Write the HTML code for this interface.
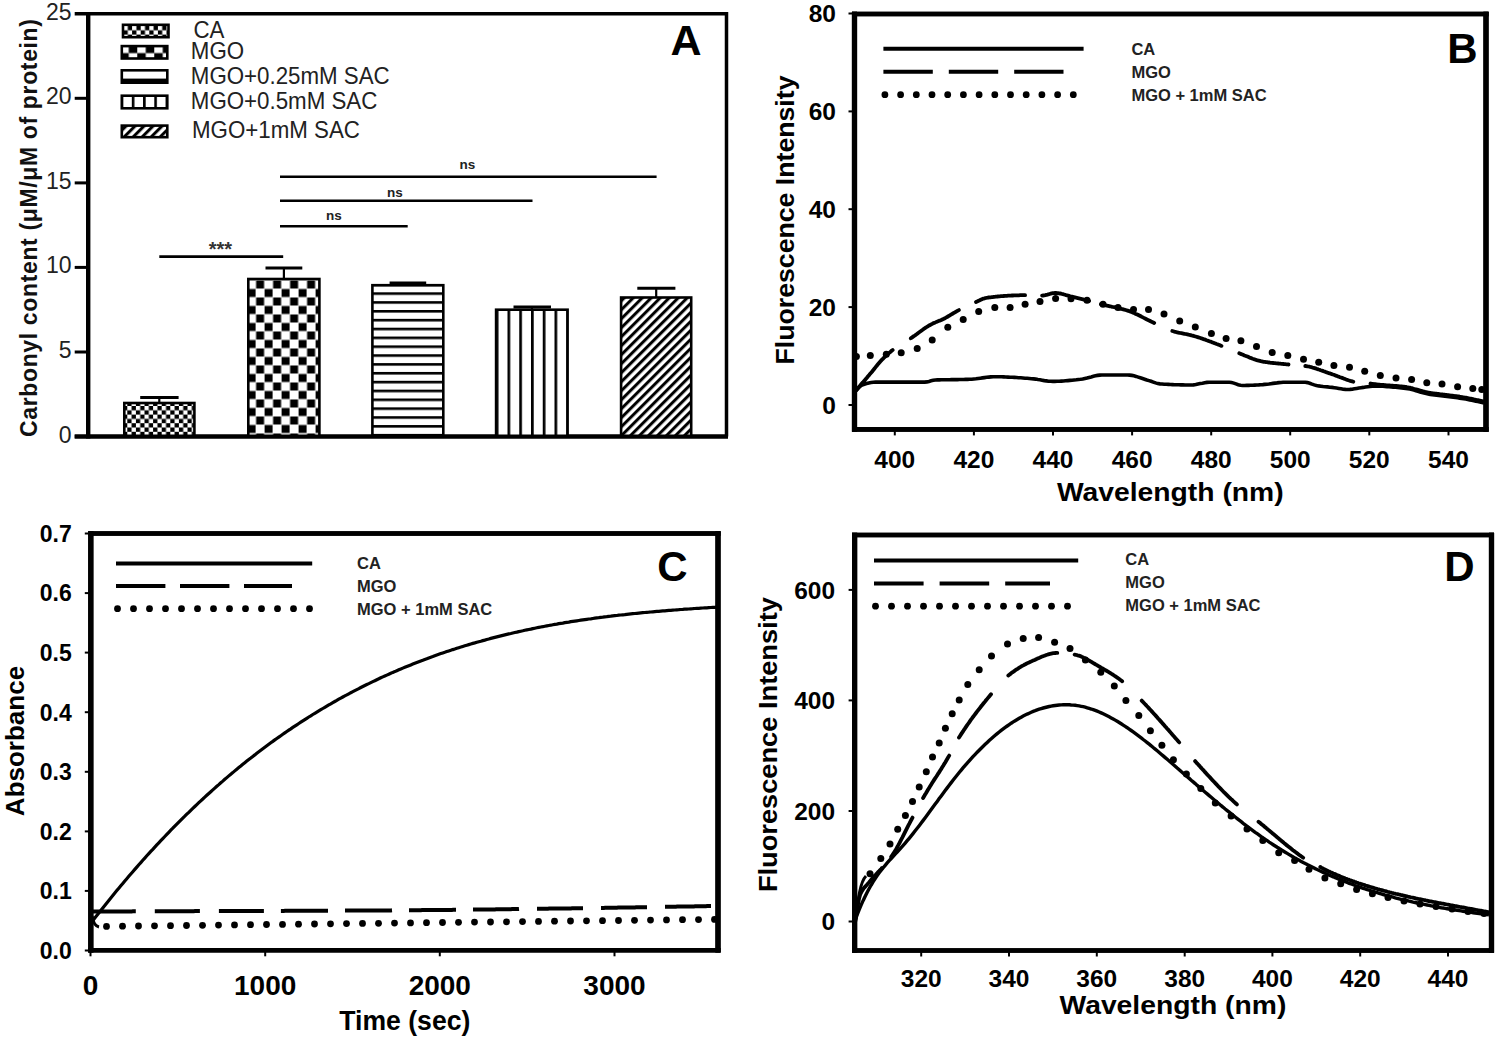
<!DOCTYPE html>
<html><head><meta charset="utf-8"><style>
html,body{margin:0;padding:0;background:#fff;width:1499px;height:1040px;overflow:hidden}
svg{display:block}
text{font-family:"Liberation Sans",sans-serif}
</style></head><body>
<svg width="1499" height="1040" viewBox="0 0 1499 1040">
<rect width="1499" height="1040" fill="#fff"/>
<defs>
<pattern id="pCA" patternUnits="userSpaceOnUse" x="127.3" y="406" width="8.6" height="8.6"><rect width="8.6" height="8.6" fill="#fff"/><rect x="4.3" y="0" width="4.3" height="4.3" fill="#000"/><rect x="0" y="4.3" width="4.3" height="4.3" fill="#000"/></pattern>
<pattern id="pMGO" patternUnits="userSpaceOnUse" x="247.6" y="280.5" width="17" height="17"><rect width="17" height="17" fill="#fff"/><rect x="8.5" y="0" width="8" height="8" fill="#000"/><rect x="0" y="8.5" width="8" height="8" fill="#000"/></pattern>
<pattern id="pH" patternUnits="userSpaceOnUse" x="0" y="292.3" width="10" height="8.85"><rect width="10" height="8.85" fill="#fff"/><rect y="0" width="10" height="2.6" fill="#000"/></pattern>
<pattern id="pV" patternUnits="userSpaceOnUse" x="507.5" y="0" width="11.75" height="10"><rect width="11.75" height="10" fill="#fff"/><rect x="0" width="2.7" height="10" fill="#000"/></pattern>
<pattern id="pD" patternUnits="userSpaceOnUse" x="0" y="0" width="6.364" height="10" patternTransform="translate(622,298) rotate(45)"><rect width="6.364" height="10" fill="#fff"/><rect x="0" width="3.0" height="10" fill="#000"/></pattern>
</defs>
<g stroke="#000" fill="none" stroke-linecap="butt">
<path d="M74.7,13.8 H726.5 V436.5" stroke-width="3.5"/>
<path d="M88.2,13.8 V438.5" stroke-width="4.4"/>
<path d="M74.7,436.5 H728" stroke-width="4"/>
<path d="M74.7,352 H88.2" stroke-width="3"/>
<path d="M74.7,267.4 H88.2" stroke-width="3"/>
<path d="M74.7,182.9 H88.2" stroke-width="3"/>
<path d="M74.7,98.3 H88.2" stroke-width="3"/>
</g>
<text x="71.5" y="442.5" text-anchor="end" font-family="Liberation Sans, sans-serif" font-size="23" fill="#222">0</text>
<text x="71.5" y="358" text-anchor="end" font-family="Liberation Sans, sans-serif" font-size="23" fill="#222">5</text>
<text x="71.5" y="273.4" text-anchor="end" font-family="Liberation Sans, sans-serif" font-size="23" fill="#222">10</text>
<text x="71.5" y="188.9" text-anchor="end" font-family="Liberation Sans, sans-serif" font-size="23" fill="#222">15</text>
<text x="71.5" y="104.3" text-anchor="end" font-family="Liberation Sans, sans-serif" font-size="23" fill="#222">20</text>
<text x="71.5" y="19.8" text-anchor="end" font-family="Liberation Sans, sans-serif" font-size="23" fill="#222">25</text>
<text transform="translate(37,228) rotate(-90)" text-anchor="middle" font-family="Liberation Sans, sans-serif" font-weight="bold" font-size="23" fill="#111" textLength="418" lengthAdjust="spacing">Carbonyl content (μM/μM of protein)</text>
<text x="686" y="55" text-anchor="middle" font-family="Liberation Sans, sans-serif" font-weight="bold" font-size="43" fill="#000">A</text>
<path d="M159.3,403 V397.6" stroke="#000" stroke-width="2.2"/>
<path d="M140.2,397.6 H178.6" stroke="#000" stroke-width="3"/>
<rect x="124.3" y="403" width="70.1" height="33.5" fill="url(#pCA)" stroke="#000" stroke-width="2.6"/>
<path d="M283.9,279 V268" stroke="#000" stroke-width="2.2"/>
<path d="M265.5,268 H302.3" stroke="#000" stroke-width="3"/>
<rect x="248.3" y="279" width="71.1" height="157.5" fill="url(#pMGO)" stroke="#000" stroke-width="2.6"/>
<path d="M407.9,285.2 V283" stroke="#000" stroke-width="2.2"/>
<path d="M389.6,283 H426.2" stroke="#000" stroke-width="3"/>
<rect x="372.4" y="285.2" width="70.9" height="151.3" fill="url(#pH)" stroke="#000" stroke-width="2.6"/>
<path d="M531.9,309.7 V306.9" stroke="#000" stroke-width="2.2"/>
<path d="M513.5,306.9 H551" stroke="#000" stroke-width="3"/>
<rect x="496.1" y="309.7" width="71.5" height="126.8" fill="url(#pV)" stroke="#000" stroke-width="2.6"/>
<path d="M656.2,297.5 V288.3" stroke="#000" stroke-width="2.2"/>
<path d="M637.3,288.3 H675.4" stroke="#000" stroke-width="3"/>
<rect x="621.1" y="297.5" width="70.1" height="139" fill="url(#pD)" stroke="#000" stroke-width="2.6"/>
<path d="M74.7,436.5 H728" stroke="#000" stroke-width="4"/>
<g stroke="#000" stroke-width="2.6">
<path d="M159.3,256.6 H283.2"/>
<path d="M280,226.3 H407.7"/>
<path d="M280,200.8 H532.5"/>
<path d="M280,176.7 H656.6"/>
</g>
<text x="220.4" y="256" text-anchor="middle" font-family="Liberation Sans, sans-serif" font-weight="bold" font-size="20" fill="#333">***</text>
<text x="333.8" y="219.5" text-anchor="middle" font-family="Liberation Sans, sans-serif" font-weight="bold" font-size="13.5" fill="#222">ns</text>
<text x="394.8" y="197" text-anchor="middle" font-family="Liberation Sans, sans-serif" font-weight="bold" font-size="13.5" fill="#222">ns</text>
<text x="467.5" y="169" text-anchor="middle" font-family="Liberation Sans, sans-serif" font-weight="bold" font-size="13.5" fill="#222">ns</text>
<defs><pattern id="pMGOl" patternUnits="userSpaceOnUse" x="120.25" y="44.6" width="17" height="17"><rect width="17" height="17" fill="#fff"/><rect x="8.5" y="0" width="8.5" height="8.5" fill="#000"/><rect x="0" y="8.5" width="8.5" height="8.5" fill="#000"/></pattern><pattern id="pCAl" patternUnits="userSpaceOnUse" x="123.5" y="26" width="8.6" height="8.6"><rect width="8.6" height="8.6" fill="#fff"/><rect x="4.3" y="0" width="4.3" height="4.3" fill="#000"/><rect x="0" y="4.3" width="4.3" height="4.3" fill="#000"/></pattern><pattern id="pVl" patternUnits="userSpaceOnUse" x="131.8" y="0" width="11.25" height="10"><rect width="11.25" height="10" fill="#fff"/><rect x="0" width="2.6" height="10" fill="#000"/></pattern><pattern id="pDl" patternUnits="userSpaceOnUse" x="0" y="0" width="6.364" height="10" patternTransform="translate(125,125) rotate(45)"><rect width="6.364" height="10" fill="#fff"/><rect x="0" width="3.0" height="10" fill="#000"/></pattern></defs>
<rect x="123" y="24.8" width="45.5" height="12.4" fill="url(#pCAl)" stroke="#000" stroke-width="2.6"/>
<rect x="121.8" y="46.1" width="45.5" height="12.4" fill="url(#pMGOl)" stroke="#000" stroke-width="2.6"/>
<rect x="121.8" y="70.3" width="45.5" height="12.4" fill="#fff" stroke="#000" stroke-width="2.6"/>
<rect x="121.8" y="78.6" width="45.5" height="4.6" fill="#000"/>
<rect x="121.8" y="95.7" width="45.5" height="12.6" fill="url(#pVl)" stroke="#000" stroke-width="2.6"/>
<rect x="121.8" y="125.6" width="45.5" height="11.6" fill="url(#pDl)" stroke="#000" stroke-width="2.6"/>
<text transform="translate(193.5,37.8) scale(0.93,1)" font-family="Liberation Sans, sans-serif" font-size="24" fill="#222">CA</text>
<text transform="translate(190.8,59.3) scale(0.93,1)" font-family="Liberation Sans, sans-serif" font-size="24" fill="#222">MGO</text>
<text transform="translate(190.8,83.7) scale(0.93,1)" font-family="Liberation Sans, sans-serif" font-size="24" fill="#222">MGO+0.25mM SAC</text>
<text transform="translate(190.8,109.3) scale(0.93,1)" font-family="Liberation Sans, sans-serif" font-size="24" fill="#222">MGO+0.5mM SAC</text>
<text transform="translate(192,137.6) scale(0.93,1)" font-family="Liberation Sans, sans-serif" font-size="24" fill="#222">MGO+1mM SAC</text>
<g stroke="#000" fill="none">
<path d="M852,14 H1488.5 M852,429.4 H1488.5" stroke-width="4.6"/>
<path d="M854.5,11.7 V431.7 M1486,11.7 V431.7" stroke-width="5.2"/>
</g>
<path d="M848.5,405 H854.5" stroke="#000" stroke-width="2"/>
<text x="836" y="413.6" text-anchor="end" font-family="Liberation Sans, sans-serif" font-weight="bold" font-size="24.5" fill="#000">0</text>
<path d="M848.5,307.1 H854.5" stroke="#000" stroke-width="2"/>
<text x="836" y="315.7" text-anchor="end" font-family="Liberation Sans, sans-serif" font-weight="bold" font-size="24.5" fill="#000">20</text>
<path d="M848.5,209.2 H854.5" stroke="#000" stroke-width="2"/>
<text x="836" y="217.8" text-anchor="end" font-family="Liberation Sans, sans-serif" font-weight="bold" font-size="24.5" fill="#000">40</text>
<path d="M848.5,111.4 H854.5" stroke="#000" stroke-width="2"/>
<text x="836" y="120" text-anchor="end" font-family="Liberation Sans, sans-serif" font-weight="bold" font-size="24.5" fill="#000">60</text>
<path d="M848.5,13.5 H854.5" stroke="#000" stroke-width="2"/>
<text x="836" y="22.1" text-anchor="end" font-family="Liberation Sans, sans-serif" font-weight="bold" font-size="24.5" fill="#000">80</text>
<path d="M894.8,429.4 V435.4" stroke="#000" stroke-width="2"/>
<text x="894.8" y="468.2" text-anchor="middle" font-family="Liberation Sans, sans-serif" font-weight="bold" font-size="24.5" fill="#000">400</text>
<path d="M973.9,429.4 V435.4" stroke="#000" stroke-width="2"/>
<text x="973.9" y="468.2" text-anchor="middle" font-family="Liberation Sans, sans-serif" font-weight="bold" font-size="24.5" fill="#000">420</text>
<path d="M1053,429.4 V435.4" stroke="#000" stroke-width="2"/>
<text x="1053" y="468.2" text-anchor="middle" font-family="Liberation Sans, sans-serif" font-weight="bold" font-size="24.5" fill="#000">440</text>
<path d="M1132.1,429.4 V435.4" stroke="#000" stroke-width="2"/>
<text x="1132.1" y="468.2" text-anchor="middle" font-family="Liberation Sans, sans-serif" font-weight="bold" font-size="24.5" fill="#000">460</text>
<path d="M1211.2,429.4 V435.4" stroke="#000" stroke-width="2"/>
<text x="1211.2" y="468.2" text-anchor="middle" font-family="Liberation Sans, sans-serif" font-weight="bold" font-size="24.5" fill="#000">480</text>
<path d="M1290.2,429.4 V435.4" stroke="#000" stroke-width="2"/>
<text x="1290.2" y="468.2" text-anchor="middle" font-family="Liberation Sans, sans-serif" font-weight="bold" font-size="24.5" fill="#000">500</text>
<path d="M1369.3,429.4 V435.4" stroke="#000" stroke-width="2"/>
<text x="1369.3" y="468.2" text-anchor="middle" font-family="Liberation Sans, sans-serif" font-weight="bold" font-size="24.5" fill="#000">520</text>
<path d="M1448.5,429.4 V435.4" stroke="#000" stroke-width="2"/>
<text x="1448.5" y="468.2" text-anchor="middle" font-family="Liberation Sans, sans-serif" font-weight="bold" font-size="24.5" fill="#000">540</text>
<text transform="translate(794,220) rotate(-90)" text-anchor="middle" font-family="Liberation Sans, sans-serif" font-weight="bold" font-size="26" fill="#000" textLength="289" lengthAdjust="spacingAndGlyphs">Fluorescence Intensity</text>
<text x="1170.3" y="500.5" text-anchor="middle" font-family="Liberation Sans, sans-serif" font-weight="bold" font-size="26" fill="#000" textLength="226.8" lengthAdjust="spacingAndGlyphs">Wavelength (nm)</text>
<text x="1462.3" y="63" text-anchor="middle" font-family="Liberation Sans, sans-serif" font-weight="bold" font-size="42" fill="#000">B</text>
<path d="M883.4,48.8 H1083.6" stroke="#000" stroke-width="4"/>
<path d="M883.4,71.8 H1063.5" stroke="#000" stroke-width="4" stroke-dasharray="49.4 16"/>
<circle cx="884.9" cy="94.7" r="3.4"/>
<circle cx="900.6" cy="94.7" r="3.4"/>
<circle cx="916.3" cy="94.7" r="3.4"/>
<circle cx="932" cy="94.7" r="3.4"/>
<circle cx="947.7" cy="94.7" r="3.4"/>
<circle cx="963.4" cy="94.7" r="3.4"/>
<circle cx="979.1" cy="94.7" r="3.4"/>
<circle cx="994.8" cy="94.7" r="3.4"/>
<circle cx="1010.5" cy="94.7" r="3.4"/>
<circle cx="1026.2" cy="94.7" r="3.4"/>
<circle cx="1041.9" cy="94.7" r="3.4"/>
<circle cx="1057.6" cy="94.7" r="3.4"/>
<circle cx="1073.3" cy="94.7" r="3.4"/>
<text x="1131.4" y="54.8" font-family="Liberation Sans, sans-serif" font-weight="bold" font-size="16.5" fill="#222">CA</text>
<text x="1131.4" y="77.8" font-family="Liberation Sans, sans-serif" font-weight="bold" font-size="16.5" fill="#222">MGO</text>
<text x="1131.4" y="100.7" font-family="Liberation Sans, sans-serif" font-weight="bold" font-size="16.5" fill="#222">MGO + 1mM SAC</text>
<path d="M855.5,391.0 L857.7,388.7 L859.8,386.5 L862.0,385.0 L864.3,384.2 L866.5,383.5 L868.8,382.9 L871.1,382.5 L873.3,382.2 L875.6,382.1 L877.6,382.1 L879.7,382.1 L881.7,382.1 L883.8,382.1 L885.8,382.1 L887.9,382.1 L889.9,382.1 L892.0,382.1 L894.0,382.1 L896.1,382.1 L898.1,382.1 L900.2,382.1 L902.2,382.1 L904.2,382.1 L906.3,382.1 L908.3,382.1 L910.4,382.1 L912.4,382.1 L914.5,382.1 L916.5,382.1 L918.6,382.1 L920.6,382.1 L922.7,382.1 L924.7,382.1 L926.8,381.9 L929.0,381.4 L931.1,380.8 L933.3,380.3 L935.4,380.0 L937.4,379.9 L939.4,379.9 L941.4,379.8 L943.4,379.7 L945.5,379.7 L947.5,379.7 L949.5,379.7 L951.5,379.6 L953.5,379.6 L955.5,379.6 L957.5,379.6 L959.5,379.5 L961.6,379.5 L963.6,379.5 L965.6,379.4 L967.6,379.4 L969.6,379.3 L971.7,379.2 L973.9,379.0 L976.0,378.8 L978.1,378.5 L980.3,378.2 L982.4,377.9 L984.5,377.6 L986.7,377.3 L988.8,377.1 L990.9,376.9 L993.1,376.7 L995.2,376.7 L997.3,376.7 L999.5,376.8 L1001.6,376.8 L1003.7,376.9 L1005.8,377.0 L1008.0,377.1 L1010.1,377.2 L1012.2,377.3 L1014.4,377.4 L1016.5,377.5 L1018.6,377.7 L1020.8,377.8 L1022.9,378.0 L1025.1,378.2 L1027.2,378.3 L1029.3,378.5 L1031.5,378.7 L1033.6,378.9 L1035.7,379.1 L1037.9,379.5 L1040.0,379.8 L1042.1,380.2 L1044.3,380.6 L1046.4,380.9 L1048.5,381.2 L1050.7,381.3 L1052.8,381.4 L1054.9,381.4 L1057.1,381.3 L1059.2,381.2 L1061.4,381.1 L1063.5,381.0 L1065.6,380.8 L1067.8,380.6 L1069.9,380.4 L1072.0,380.2 L1074.2,380.0 L1076.3,379.8 L1078.5,379.5 L1080.6,379.3 L1082.7,379.0 L1084.9,378.5 L1087.0,378.0 L1089.1,377.4 L1091.2,376.9 L1093.4,376.3 L1095.5,375.8 L1097.6,375.4 L1099.8,375.1 L1101.9,375.0 L1104.0,375.0 L1106.2,375.0 L1108.3,375.0 L1110.4,375.0 L1112.6,375.0 L1114.7,375.0 L1116.8,375.0 L1119.0,375.0 L1121.1,375.0 L1123.2,375.0 L1125.4,375.0 L1127.5,375.0 L1129.6,375.1 L1131.8,375.4 L1133.9,375.8 L1136.1,376.4 L1138.2,377.1 L1140.3,377.8 L1142.5,378.5 L1144.6,379.2 L1146.8,380.0 L1148.9,380.6 L1151.1,381.3 L1153.3,382.1 L1155.6,382.9 L1157.8,383.6 L1160.0,383.9 L1162.1,384.0 L1164.2,384.2 L1166.3,384.3 L1168.3,384.4 L1170.4,384.5 L1172.5,384.6 L1174.6,384.7 L1176.7,384.8 L1178.8,384.8 L1180.9,384.9 L1183.0,384.9 L1185.0,385.0 L1187.1,385.0 L1189.2,385.0 L1191.3,385.0 L1193.5,384.9 L1195.8,384.6 L1198.0,384.1 L1200.2,383.6 L1202.5,383.2 L1204.7,382.7 L1207.0,382.4 L1209.2,382.3 L1211.2,382.3 L1213.2,382.3 L1215.2,382.3 L1217.2,382.3 L1219.2,382.3 L1221.3,382.3 L1223.3,382.3 L1225.3,382.3 L1227.3,382.3 L1229.3,382.3 L1231.5,382.5 L1233.8,383.1 L1236.0,383.9 L1238.2,384.7 L1240.5,385.3 L1242.7,385.5 L1244.7,385.5 L1246.7,385.4 L1248.7,385.4 L1250.7,385.3 L1252.8,385.2 L1254.8,385.1 L1256.8,385.0 L1258.8,384.9 L1260.8,384.7 L1262.8,384.6 L1264.8,384.4 L1266.9,384.2 L1268.9,384.0 L1270.9,383.7 L1272.9,383.4 L1275.0,383.1 L1277.0,382.9 L1279.0,382.6 L1281.0,382.5 L1283.1,382.3 L1285.1,382.3 L1287.1,382.3 L1289.1,382.3 L1291.2,382.3 L1293.2,382.3 L1295.2,382.3 L1297.2,382.3 L1299.2,382.3 L1301.3,382.3 L1303.3,382.3 L1305.3,382.3 L1307.5,382.6 L1309.7,383.2 L1312.0,384.1 L1314.2,384.9 L1316.4,385.5 L1318.6,385.9 L1320.9,386.2 L1323.1,386.5 L1325.3,386.7 L1327.6,386.9 L1329.8,387.2 L1332.1,387.4 L1334.3,387.7 L1336.5,388.0 L1338.8,388.4 L1341.0,388.8 L1343.2,389.2 L1345.5,389.4 L1347.7,389.5 L1349.9,389.4 L1352.2,389.2 L1354.4,388.8 L1356.6,388.4 L1358.9,388.0 L1361.1,387.7 L1363.3,387.4 L1365.6,387.0 L1367.8,386.7 L1370.0,386.4 L1372.3,386.2 L1374.5,386.1 L1376.6,386.1 L1378.7,386.2 L1380.8,386.2 L1382.8,386.3 L1384.9,386.4 L1387.0,386.6 L1389.1,386.7 L1391.2,386.9 L1393.3,387.1 L1395.4,387.3 L1397.5,387.5 L1399.5,387.7 L1401.6,387.9 L1403.7,388.2 L1405.8,388.4 L1407.8,388.7 L1409.9,389.1 L1411.9,389.6 L1413.9,390.1 L1416.0,390.7 L1418.0,391.3 L1420.1,392.0 L1422.1,392.6 L1424.1,393.1 L1426.2,393.6 L1428.2,394.0 L1430.3,394.4 L1432.4,394.7 L1434.5,395.0 L1436.6,395.3 L1438.7,395.5 L1440.8,395.8 L1442.9,396.0 L1445.0,396.3 L1447.0,396.5 L1449.1,396.7 L1451.2,397.0 L1453.3,397.2 L1455.4,397.5 L1457.5,397.8 L1459.6,398.1 L1461.7,398.4 L1463.7,398.7 L1465.8,399.1 L1467.8,399.5 L1469.8,399.9 L1471.8,400.3 L1473.9,400.8 L1475.9,401.2 L1477.9,401.6 L1479.9,402.1 L1482.0,402.5 L1484.0,402.9" fill="none" stroke="#000" stroke-width="3.6"/>
<path d="M855.5,391.0 L856.6,389.8 L857.6,388.5 L858.7,387.3 L859.7,386.1 L860.8,384.8 L861.8,383.6 L862.9,382.4 L863.9,381.2 L865.0,379.9 L866.0,378.7 L867.1,377.5 L868.1,376.2 L869.2,375.0 L870.2,373.7 L871.3,372.5 L872.4,371.2 L873.4,369.9 L874.5,368.6 L875.6,367.2 L876.6,365.9 L877.7,364.6 L878.8,363.3 L879.9,362.0 L880.9,360.8 L882.0,359.7 L883.1,358.6 L884.1,357.5 L885.2,356.5 L886.3,355.5 L887.4,354.5 L888.4,353.5 L889.5,352.6 L890.6,351.7 L891.6,350.8 L892.7,350.0 M910.8,338.3 L911.8,337.6 L912.8,336.9 L913.8,336.2 L914.9,335.5 L915.9,334.7 L916.9,334.0 L917.9,333.2 L918.9,332.5 L919.9,331.8 L921.0,331.0 L922.0,330.3 L923.0,329.6 L924.0,328.8 L925.0,328.1 L926.0,327.5 L927.0,326.8 L928.1,326.2 L929.1,325.5 L930.1,325.0 L931.1,324.4 L932.2,323.9 L933.2,323.3 L934.3,322.9 L935.4,322.4 L936.4,321.9 L937.5,321.5 L938.6,321.1 L939.6,320.6 L940.7,320.2 L941.8,319.7 L942.8,319.2 L943.9,318.7 L944.9,318.2 L945.9,317.7 L946.9,317.1 L947.9,316.5 L948.9,315.9 L949.9,315.3 L950.9,314.7 L951.9,314.1 L952.9,313.5 L953.9,312.9 L954.9,312.3 L955.9,311.8 L956.9,311.2 L957.9,310.6 L958.9,310.1 M976.0,302.0 L977.1,301.5 L978.1,301.0 L979.2,300.5 L980.2,300.0 L981.3,299.5 L982.4,299.0 L983.4,298.6 L984.5,298.3 L985.5,298.0 L986.6,297.8 L987.6,297.7 L988.6,297.5 L989.6,297.4 L990.7,297.3 L991.7,297.2 L992.7,297.1 L993.7,296.9 L994.7,296.8 L995.7,296.7 L996.7,296.6 L997.7,296.5 L998.8,296.4 L999.8,296.3 L1000.8,296.2 L1001.8,296.2 L1002.8,296.1 L1003.8,296.0 L1004.8,295.9 L1005.8,295.9 L1006.9,295.8 L1007.9,295.7 L1008.9,295.7 L1009.9,295.6 L1010.9,295.6 L1011.9,295.5 L1012.9,295.5 L1014.0,295.4 L1015.0,295.4 L1016.0,295.3 L1017.0,295.3 L1018.0,295.3 L1019.0,295.3 L1020.0,295.2 L1021.0,295.2 L1022.1,295.2 L1023.1,295.2 L1024.1,295.2 L1025.1,295.2 M1042.1,295.6 L1043.2,295.5 L1044.2,295.4 L1045.3,295.2 L1046.4,294.9 L1047.5,294.6 L1048.5,294.3 L1049.6,294.0 L1050.7,293.7 L1051.8,293.4 L1052.8,293.2 L1053.9,293.1 L1055.0,293.0 L1056.0,293.0 L1057.0,293.1 L1058.0,293.2 L1059.0,293.4 L1060.0,293.5 L1061.0,293.7 L1062.0,294.0 L1063.0,294.2 L1064.0,294.5 L1065.0,294.8 L1066.0,295.1 L1067.0,295.3 L1068.0,295.6 L1069.0,295.9 L1070.0,296.2 L1071.0,296.5 L1072.0,296.7 L1073.0,296.9 L1074.0,297.2 L1075.0,297.4 L1076.0,297.7 L1077.0,297.9 L1078.0,298.2 L1079.0,298.4 L1080.0,298.7 L1081.1,298.9 L1082.1,299.2 L1083.1,299.4 L1084.1,299.7 L1085.1,300.0 L1086.1,300.2 L1087.1,300.5 L1088.1,300.7 L1089.1,301.0 M1100.9,304.2 L1101.9,304.5 L1102.9,304.7 L1104.0,305.0 L1105.0,305.2 L1106.0,305.4 L1107.0,305.7 L1108.1,305.9 L1109.1,306.1 L1110.1,306.3 L1111.1,306.5 L1112.2,306.8 L1113.2,307.0 L1114.2,307.2 L1115.2,307.4 L1116.2,307.7 L1117.3,307.9 L1118.3,308.1 L1119.3,308.4 L1120.3,308.6 L1121.4,308.9 L1122.4,309.1 L1123.4,309.4 L1124.4,309.7 L1125.5,310.0 L1126.5,310.3 L1127.5,310.6 L1128.5,310.9 L1129.6,311.3 L1130.6,311.7 L1131.6,312.1 L1132.6,312.5 L1133.7,312.9 L1134.7,313.4 L1135.7,313.9 L1136.7,314.3 L1137.8,314.8 L1138.8,315.3 L1139.8,315.8 L1140.8,316.3 L1141.9,316.9 L1142.9,317.4 L1143.9,317.9 L1145.0,318.4 L1146.0,319.0 L1147.0,319.5 L1148.0,320.0 L1149.1,320.5 L1150.1,321.0 L1151.1,321.6 L1152.1,322.0 L1153.2,322.5 L1154.2,323.0 M1172.3,331.0 L1173.3,331.3 L1174.3,331.6 L1175.3,331.8 L1176.3,332.1 L1177.3,332.3 L1178.4,332.6 L1179.4,332.8 L1180.4,333.0 L1181.4,333.2 L1182.4,333.4 L1183.4,333.6 L1184.4,333.8 L1185.4,334.0 L1186.4,334.2 L1187.4,334.4 L1188.5,334.7 L1189.5,334.9 L1190.5,335.1 L1191.5,335.4 L1192.5,335.6 L1193.5,335.9 L1194.5,336.2 L1195.5,336.5 L1196.5,336.8 L1197.5,337.1 L1198.5,337.4 L1199.5,337.7 L1200.5,338.0 L1201.5,338.4 L1202.5,338.7 L1203.5,339.1 L1204.5,339.4 L1205.5,339.8 L1206.5,340.2 L1207.5,340.5 L1208.5,340.9 L1209.5,341.3 L1210.5,341.6 L1211.5,342.0 L1212.5,342.4 L1213.5,342.8 L1214.5,343.2 L1215.5,343.6 L1216.5,344.0 L1217.5,344.3 L1218.5,344.7 L1219.5,345.1 L1220.5,345.5 L1221.5,345.9 M1239.3,353.3 L1240.3,353.7 L1241.3,354.1 L1242.4,354.5 L1243.4,354.9 L1244.4,355.4 L1245.4,355.8 L1246.5,356.2 L1247.5,356.6 L1248.5,357.0 L1249.5,357.5 L1250.5,357.9 L1251.6,358.3 L1252.6,358.7 L1253.6,359.0 L1254.6,359.4 L1255.6,359.7 L1256.7,360.1 L1257.7,360.4 L1258.7,360.7 L1259.7,360.9 L1260.8,361.2 L1261.8,361.4 L1262.8,361.6 L1263.8,361.8 L1264.9,361.9 L1265.9,362.1 L1266.9,362.2 L1267.9,362.4 L1269.0,362.5 L1270.0,362.7 L1271.0,362.8 L1272.1,362.9 L1273.1,363.0 L1274.1,363.1 L1275.1,363.2 L1276.2,363.3 L1277.2,363.4 L1278.2,363.5 L1279.2,363.6 L1280.3,363.7 L1281.3,363.8 L1282.3,363.9 L1283.4,364.0 L1284.4,364.1 L1285.4,364.2 L1286.4,364.3 L1287.5,364.4 L1288.5,364.5 M1305.3,366.0 L1306.3,366.1 L1307.3,366.3 L1308.4,366.5 L1309.4,366.7 L1310.4,367.0 L1311.4,367.2 L1312.4,367.5 L1313.5,367.8 L1314.5,368.1 L1315.5,368.4 L1316.5,368.8 L1317.5,369.1 L1318.6,369.5 L1319.6,369.8 L1320.6,370.2 L1321.6,370.5 L1322.7,370.9 L1323.7,371.3 L1324.7,371.6 L1325.7,372.0 L1326.7,372.4 L1327.8,372.7 L1328.8,373.1 L1329.8,373.4 L1330.8,373.7 L1331.8,374.1 L1332.9,374.5 L1333.9,374.8 L1334.9,375.2 L1335.9,375.6 L1337.0,376.0 L1338.0,376.4 L1339.0,376.8 L1340.0,377.2 L1341.0,377.5 L1342.1,377.9 L1343.1,378.3 L1344.1,378.7 L1345.1,379.1 L1346.1,379.5 L1347.2,379.8 L1348.2,380.2 L1349.2,380.5 L1350.2,380.8 L1351.3,381.1 L1352.3,381.4 L1353.3,381.7 M1370.5,383.5 L1371.5,383.7 L1372.5,383.8 L1373.5,384.0 L1374.5,384.1 L1375.5,384.2 L1376.5,384.3 L1377.5,384.5 L1378.5,384.6 L1379.5,384.7 L1380.6,384.8 L1381.6,384.9 L1382.6,385.0 L1383.6,385.0 L1384.6,385.1 L1385.6,385.2 L1386.6,385.3 L1387.6,385.3 L1388.6,385.4 L1389.6,385.5 L1390.7,385.6 L1391.7,385.6 L1392.7,385.7 L1393.7,385.8 L1394.7,385.9 L1395.7,385.9 L1396.7,386.0 L1397.7,386.1 L1398.7,386.2 L1399.7,386.3 L1400.8,386.4 L1401.8,386.5 L1402.8,386.6 L1403.8,386.7 L1404.8,386.9 L1405.8,387.0 L1406.8,387.2 L1407.8,387.3 L1408.9,387.5 L1409.9,387.7 L1410.9,388.0 L1411.9,388.2 L1412.9,388.5 L1413.9,388.8 L1415.0,389.1 L1416.0,389.3 L1417.0,389.6 L1418.0,389.9 L1419.0,390.2 L1420.1,390.5 L1421.1,390.8 L1422.1,391.1 L1423.1,391.4 L1424.1,391.6 L1425.1,391.9 L1426.2,392.1 L1427.2,392.3 L1428.2,392.5 L1429.2,392.7 L1430.2,392.8 L1431.2,393.0 L1432.3,393.2 L1433.3,393.3 L1434.3,393.5 L1435.3,393.6 L1436.3,393.7 L1437.3,393.9 L1438.4,394.0 L1439.4,394.1 L1440.4,394.3 L1441.4,394.4 L1442.4,394.5 L1443.4,394.6 L1444.4,394.7 L1445.5,394.9 L1446.5,395.0 L1447.5,395.1 L1448.5,395.2 L1449.5,395.3 L1450.5,395.5 L1451.5,395.6 L1452.6,395.7 L1453.6,395.8 L1454.6,396.0 L1455.6,396.1 L1456.6,396.2 L1457.6,396.4 L1458.7,396.5 L1459.7,396.7 L1460.7,396.8 L1461.7,397.0 L1462.7,397.2 L1463.7,397.3 L1464.7,397.5 L1465.8,397.7 L1466.8,397.9 L1467.8,398.1 L1468.8,398.3 L1469.8,398.5 L1470.8,398.7 L1471.8,398.9 L1472.8,399.1 L1473.9,399.4 L1474.9,399.6 L1475.9,399.8 L1476.9,400.0 L1477.9,400.2 L1478.9,400.4 L1479.9,400.7 L1481.0,400.9 L1482.0,401.1 L1483.0,401.3 L1484.0,401.5" fill="none" stroke="#000" stroke-width="3.8" stroke-linecap="round"/>
<circle cx="856.4" cy="356.5" r="3.5"/>
<circle cx="870.3" cy="355.4" r="3.5"/>
<circle cx="886.3" cy="354.3" r="3.5"/>
<circle cx="901.2" cy="352.8" r="3.5"/>
<circle cx="917.2" cy="348.6" r="3.5"/>
<circle cx="932.2" cy="340" r="3.5"/>
<circle cx="947.8" cy="327.2" r="3.5"/>
<circle cx="963.2" cy="319.5" r="3.5"/>
<circle cx="978.7" cy="311.6" r="3.5"/>
<circle cx="994.8" cy="307.4" r="3.5"/>
<circle cx="1010.1" cy="307.4" r="3.5"/>
<circle cx="1025.1" cy="304.2" r="3.5"/>
<circle cx="1040" cy="301.6" r="3.5"/>
<circle cx="1055.6" cy="298.4" r="3.5"/>
<circle cx="1071" cy="298.8" r="3.5"/>
<circle cx="1087" cy="300.3" r="3.5"/>
<circle cx="1103" cy="304.2" r="3.5"/>
<circle cx="1118" cy="307.4" r="3.5"/>
<circle cx="1133.5" cy="309.5" r="3.5"/>
<circle cx="1148.5" cy="309.5" r="3.5"/>
<circle cx="1164" cy="314" r="3.5"/>
<circle cx="1179.7" cy="320.9" r="3.5"/>
<circle cx="1195.3" cy="326.9" r="3.5"/>
<circle cx="1211.4" cy="333.6" r="3.5"/>
<circle cx="1226.1" cy="338.5" r="3.5"/>
<circle cx="1240.9" cy="340.8" r="3.5"/>
<circle cx="1256.5" cy="346.6" r="3.5"/>
<circle cx="1272.2" cy="352.6" r="3.5"/>
<circle cx="1287.8" cy="355.5" r="3.5"/>
<circle cx="1303.5" cy="359.3" r="3.5"/>
<circle cx="1318.7" cy="362.2" r="3.5"/>
<circle cx="1333.9" cy="365.4" r="3.5"/>
<circle cx="1349.5" cy="367.2" r="3.5"/>
<circle cx="1364.7" cy="371.2" r="3.5"/>
<circle cx="1380.3" cy="375.6" r="3.5"/>
<circle cx="1396" cy="377.9" r="3.5"/>
<circle cx="1411.6" cy="379.4" r="3.5"/>
<circle cx="1426.8" cy="382.8" r="3.5"/>
<circle cx="1442" cy="383.9" r="3.5"/>
<circle cx="1457.6" cy="386.8" r="3.5"/>
<circle cx="1472.8" cy="388.4" r="3.5"/>
<circle cx="1481.8" cy="389.5" r="3.5"/>
<g stroke="#000" fill="none">
<path d="M852,14 H1488.5 M852,429.4 H1488.5" stroke-width="4.6"/>
<path d="M854.5,11.7 V431.7 M1486,11.7 V431.7" stroke-width="5.2"/>
</g>
<g stroke="#000" fill="none">
<path d="M88.3,533.5 H720.5 M88.3,950.3 H720.5" stroke-width="4.6"/>
<path d="M90.8,531.2 V952.6 M718,531.2 V952.6" stroke-width="5.2"/>
</g>
<path d="M84.8,950.5 H90.8" stroke="#000" stroke-width="2"/>
<text x="71.8" y="958.8" text-anchor="end" font-family="Liberation Sans, sans-serif" font-weight="bold" font-size="23" fill="#000">0.0</text>
<path d="M84.8,890.9 H90.8" stroke="#000" stroke-width="2"/>
<text x="71.8" y="899.2" text-anchor="end" font-family="Liberation Sans, sans-serif" font-weight="bold" font-size="23" fill="#000">0.1</text>
<path d="M84.8,831.4 H90.8" stroke="#000" stroke-width="2"/>
<text x="71.8" y="839.7" text-anchor="end" font-family="Liberation Sans, sans-serif" font-weight="bold" font-size="23" fill="#000">0.2</text>
<path d="M84.8,771.8 H90.8" stroke="#000" stroke-width="2"/>
<text x="71.8" y="780.1" text-anchor="end" font-family="Liberation Sans, sans-serif" font-weight="bold" font-size="23" fill="#000">0.3</text>
<path d="M84.8,712.2 H90.8" stroke="#000" stroke-width="2"/>
<text x="71.8" y="720.5" text-anchor="end" font-family="Liberation Sans, sans-serif" font-weight="bold" font-size="23" fill="#000">0.4</text>
<path d="M84.8,652.6 H90.8" stroke="#000" stroke-width="2"/>
<text x="71.8" y="660.9" text-anchor="end" font-family="Liberation Sans, sans-serif" font-weight="bold" font-size="23" fill="#000">0.5</text>
<path d="M84.8,593.1 H90.8" stroke="#000" stroke-width="2"/>
<text x="71.8" y="601.4" text-anchor="end" font-family="Liberation Sans, sans-serif" font-weight="bold" font-size="23" fill="#000">0.6</text>
<path d="M84.8,533.5 H90.8" stroke="#000" stroke-width="2"/>
<text x="71.8" y="541.8" text-anchor="end" font-family="Liberation Sans, sans-serif" font-weight="bold" font-size="23" fill="#000">0.7</text>
<path d="M90.5,950.3 V956.3" stroke="#000" stroke-width="2"/>
<text x="90.5" y="994.9" text-anchor="middle" font-family="Liberation Sans, sans-serif" font-weight="bold" font-size="28" fill="#000">0</text>
<path d="M265.2,950.3 V956.3" stroke="#000" stroke-width="2"/>
<text x="265.2" y="994.9" text-anchor="middle" font-family="Liberation Sans, sans-serif" font-weight="bold" font-size="28" fill="#000">1000</text>
<path d="M439.8,950.3 V956.3" stroke="#000" stroke-width="2"/>
<text x="439.8" y="994.9" text-anchor="middle" font-family="Liberation Sans, sans-serif" font-weight="bold" font-size="28" fill="#000">2000</text>
<path d="M614.5,950.3 V956.3" stroke="#000" stroke-width="2"/>
<text x="614.5" y="994.9" text-anchor="middle" font-family="Liberation Sans, sans-serif" font-weight="bold" font-size="28" fill="#000">3000</text>
<text transform="translate(24,741) rotate(-90)" text-anchor="middle" font-family="Liberation Sans, sans-serif" font-weight="bold" font-size="26" fill="#000">Absorbance</text>
<text x="404.8" y="1029.5" text-anchor="middle" font-family="Liberation Sans, sans-serif" font-weight="bold" font-size="27" fill="#000" textLength="131" lengthAdjust="spacingAndGlyphs">Time (sec)</text>
<text x="672.5" y="581" text-anchor="middle" font-family="Liberation Sans, sans-serif" font-weight="bold" font-size="42" fill="#000">C</text>
<path d="M116,563.4 H312.2" stroke="#000" stroke-width="4"/>
<path d="M116,586 H292" stroke="#000" stroke-width="4" stroke-dasharray="49.4 14.6"/>
<circle cx="117.5" cy="608.7" r="3.4"/>
<circle cx="133.5" cy="608.7" r="3.4"/>
<circle cx="149.5" cy="608.7" r="3.4"/>
<circle cx="165.5" cy="608.7" r="3.4"/>
<circle cx="181.5" cy="608.7" r="3.4"/>
<circle cx="197.5" cy="608.7" r="3.4"/>
<circle cx="213.5" cy="608.7" r="3.4"/>
<circle cx="229.5" cy="608.7" r="3.4"/>
<circle cx="245.5" cy="608.7" r="3.4"/>
<circle cx="261.5" cy="608.7" r="3.4"/>
<circle cx="277.5" cy="608.7" r="3.4"/>
<circle cx="293.5" cy="608.7" r="3.4"/>
<circle cx="309.5" cy="608.7" r="3.4"/>
<text x="357" y="569.4" font-family="Liberation Sans, sans-serif" font-weight="bold" font-size="16.5" fill="#222">CA</text>
<text x="357" y="592" font-family="Liberation Sans, sans-serif" font-weight="bold" font-size="16.5" fill="#222">MGO</text>
<text x="357" y="614.7" font-family="Liberation Sans, sans-serif" font-weight="bold" font-size="16.5" fill="#222">MGO + 1mM SAC</text>
<path d="M90.8,923.3 L92.8,920.7 L94.8,918.1 L96.8,915.6 L98.8,913.0 L100.8,910.5 L102.8,907.9 L104.8,905.4 L106.8,902.9 L108.8,900.4 L110.8,898.0 L112.8,895.5 L114.8,893.1 L116.8,890.6 L118.8,888.2 L120.8,885.8 L122.8,883.4 L124.8,881.0 L126.8,878.7 L128.8,876.3 L130.8,874.0 L132.8,871.7 L134.8,869.4 L136.8,867.1 L138.8,864.8 L140.8,862.6 L142.8,860.3 L144.8,858.1 L146.8,855.8 L148.8,853.6 L150.8,851.4 L152.8,849.3 L154.8,847.1 L156.8,844.9 L158.8,842.8 L160.8,840.7 L162.8,838.6 L164.8,836.5 L166.8,834.4 L168.8,832.3 L170.8,830.2 L172.8,828.2 L174.8,826.1 L176.8,824.1 L178.8,822.1 L180.8,820.1 L182.8,818.1 L184.8,816.2 L186.8,814.2 L188.8,812.3 L190.8,810.3 L192.8,808.4 L194.8,806.5 L196.8,804.6 L198.8,802.7 L200.8,800.8 L202.8,799.0 L204.8,797.1 L206.8,795.3 L208.8,793.5 L210.8,791.7 L212.8,789.9 L214.8,788.1 L216.8,786.3 L218.8,784.6 L220.8,782.8 L222.8,781.1 L224.8,779.3 L226.8,777.6 L228.8,775.9 L230.8,774.2 L232.8,772.6 L234.8,770.9 L236.8,769.2 L238.8,767.6 L240.8,766.0 L242.8,764.3 L244.8,762.7 L246.8,761.1 L248.8,759.5 L250.8,758.0 L252.8,756.4 L254.8,754.9 L256.8,753.3 L258.8,751.8 L260.8,750.3 L262.8,748.8 L264.8,747.3 L266.8,745.8 L268.8,744.3 L270.8,742.8 L272.8,741.4 L274.8,739.9 L276.8,738.5 L278.8,737.1 L280.8,735.7 L282.8,734.3 L284.8,732.9 L286.8,731.5 L288.8,730.1 L290.8,728.8 L292.8,727.4 L294.8,726.1 L296.8,724.8 L298.8,723.5 L300.8,722.2 L302.8,720.9 L304.8,719.6 L306.8,718.3 L308.8,717.0 L310.8,715.8 L312.8,714.5 L314.8,713.3 L316.8,712.1 L318.8,710.9 L320.8,709.7 L322.8,708.5 L324.8,707.3 L326.8,706.1 L328.8,704.9 L330.8,703.8 L332.8,702.6 L334.8,701.5 L336.8,700.4 L338.8,699.2 L340.8,698.1 L342.8,697.0 L344.8,695.9 L346.8,694.9 L348.8,693.8 L350.8,692.7 L352.8,691.7 L354.8,690.6 L356.8,689.6 L358.8,688.6 L360.8,687.5 L362.8,686.5 L364.8,685.5 L366.8,684.5 L368.8,683.6 L370.8,682.6 L372.8,681.6 L374.8,680.7 L376.8,679.7 L378.8,678.8 L380.8,677.8 L382.8,676.9 L384.8,676.0 L386.8,675.1 L388.8,674.2 L390.8,673.3 L392.8,672.4 L394.8,671.6 L396.8,670.7 L398.8,669.8 L400.8,669.0 L402.8,668.1 L404.8,667.3 L406.8,666.5 L408.8,665.7 L410.8,664.9 L412.8,664.1 L414.8,663.3 L416.8,662.5 L418.8,661.7 L420.8,660.9 L422.8,660.2 L424.8,659.4 L426.8,658.7 L428.8,657.9 L430.8,657.2 L432.8,656.5 L434.8,655.7 L436.8,655.0 L438.8,654.3 L440.8,653.6 L442.8,652.9 L444.8,652.3 L446.8,651.6 L448.8,650.9 L450.8,650.3 L452.8,649.6 L454.8,649.0 L456.8,648.3 L458.8,647.7 L460.8,647.1 L462.8,646.4 L464.8,645.8 L466.8,645.2 L468.8,644.6 L470.8,644.0 L472.8,643.4 L474.8,642.9 L476.8,642.3 L478.8,641.7 L480.8,641.2 L482.8,640.6 L484.8,640.1 L486.8,639.5 L488.8,639.0 L490.8,638.4 L492.8,637.9 L494.8,637.4 L496.8,636.9 L498.8,636.4 L500.8,635.9 L502.8,635.4 L504.8,634.9 L506.8,634.4 L508.8,633.9 L510.8,633.5 L512.8,633.0 L514.8,632.5 L516.8,632.1 L518.8,631.6 L520.8,631.2 L522.8,630.8 L524.8,630.3 L526.8,629.9 L528.8,629.5 L530.8,629.1 L532.8,628.6 L534.8,628.2 L536.8,627.8 L538.8,627.4 L540.8,627.0 L542.8,626.7 L544.8,626.3 L546.8,625.9 L548.8,625.5 L550.8,625.2 L552.8,624.8 L554.8,624.4 L556.8,624.1 L558.8,623.7 L560.8,623.4 L562.8,623.1 L564.8,622.7 L566.8,622.4 L568.8,622.1 L570.8,621.7 L572.8,621.4 L574.8,621.1 L576.8,620.8 L578.8,620.5 L580.8,620.2 L582.8,619.9 L584.8,619.6 L586.8,619.3 L588.8,619.0 L590.8,618.8 L592.8,618.5 L594.8,618.2 L596.8,617.9 L598.8,617.7 L600.8,617.4 L602.8,617.2 L604.8,616.9 L606.8,616.7 L608.8,616.4 L610.8,616.2 L612.8,615.9 L614.8,615.7 L616.8,615.5 L618.8,615.2 L620.8,615.0 L622.8,614.8 L624.8,614.6 L626.8,614.3 L628.8,614.1 L630.8,613.9 L632.8,613.7 L634.8,613.5 L636.8,613.3 L638.8,613.1 L640.8,612.9 L642.8,612.7 L644.8,612.5 L646.8,612.3 L648.8,612.2 L650.8,612.0 L652.8,611.8 L654.8,611.6 L656.8,611.4 L658.8,611.3 L660.8,611.1 L662.8,610.9 L664.8,610.8 L666.8,610.6 L668.8,610.4 L670.8,610.3 L672.8,610.1 L674.8,610.0 L676.8,609.8 L678.8,609.7 L680.8,609.5 L682.8,609.4 L684.8,609.2 L686.8,609.1 L688.8,609.0 L690.8,608.8 L692.8,608.7 L694.8,608.5 L696.8,608.4 L698.8,608.3 L700.8,608.1 L702.8,608.0 L704.8,607.9 L706.8,607.8 L708.8,607.6 L710.8,607.5 L712.8,607.4 L714.8,607.3 L716.5,607.2" fill="none" stroke="#000" stroke-width="3.2"/>
<path d="M90.8,911.5 L91.8,911.5 L92.8,911.5 L93.8,911.5 L94.8,911.5 L95.8,911.5 L96.8,911.5 L97.8,911.5 L98.8,911.5 L99.8,911.5 L100.8,911.5 L101.8,911.5 L102.8,911.5 L103.8,911.5 L104.8,911.4 L105.8,911.4 L106.8,911.4 L107.8,911.4 L108.8,911.4 L109.8,911.4 L110.8,911.4 L111.8,911.4 L112.8,911.4 L113.8,911.4 L114.8,911.4 L115.8,911.4 L116.8,911.4 L117.8,911.4 L118.8,911.4 L119.8,911.4 L120.8,911.4 L121.8,911.4 L122.8,911.4 L123.8,911.4 L124.8,911.4 L125.8,911.4 L126.8,911.4 L127.8,911.4 L128.8,911.4 L129.8,911.4 L130.8,911.4 L131.8,911.4 L132.8,911.3 L133.8,911.3 L134.8,911.3 L135.8,911.3 M154.8,911.3 L155.8,911.3 L156.8,911.3 L157.8,911.3 L158.8,911.3 L159.8,911.3 L160.8,911.3 L161.8,911.3 L162.8,911.2 L163.8,911.2 L164.8,911.2 L165.8,911.2 L166.8,911.2 L167.8,911.2 L168.9,911.2 L169.9,911.2 L170.9,911.2 L171.9,911.2 L172.9,911.2 L173.9,911.2 L174.9,911.2 L175.9,911.2 L176.9,911.2 L177.9,911.2 L178.9,911.2 L179.9,911.2 L180.9,911.2 L181.9,911.2 L182.9,911.2 L183.9,911.2 L184.9,911.2 L185.9,911.2 L186.9,911.2 L187.9,911.2 L188.9,911.2 L189.9,911.2 L190.9,911.2 L191.9,911.2 L192.9,911.2 L193.9,911.2 L194.9,911.1 L195.9,911.1 L196.9,911.1 L197.9,911.1 L198.9,911.1 L199.9,911.1 M218.9,911.1 L219.9,911.1 L220.9,911.1 L221.9,911.1 L222.9,911.1 L223.9,911.1 L224.9,911.1 L225.9,911.0 L226.9,911.0 L227.9,911.0 L228.9,911.0 L229.9,911.0 L230.9,911.0 L231.9,911.0 L232.9,911.0 L233.9,911.0 L234.9,911.0 L235.9,911.0 L236.9,911.0 L237.9,911.0 L238.9,911.0 L239.9,911.0 L240.9,911.0 L241.9,911.0 L242.9,911.0 L243.9,911.0 L244.9,911.0 L245.9,911.0 L246.9,911.0 L247.9,911.0 L248.9,911.0 L249.9,911.0 L250.9,911.0 L251.9,911.0 L252.9,911.0 L253.9,911.0 L254.9,911.0 L255.9,910.9 L256.9,910.9 L257.9,910.9 L258.9,910.9 L259.9,910.9 L260.9,910.9 L261.9,910.9 L262.9,910.9 L263.9,910.9 M280.9,910.9 L281.9,910.9 L282.9,910.9 L283.9,910.9 L284.9,910.8 L285.9,910.8 L286.9,910.8 L287.9,910.8 L288.9,910.8 L289.9,910.8 L290.9,910.8 L291.9,910.8 L292.9,910.8 L293.9,910.8 L294.9,910.8 L295.9,910.8 L296.9,910.8 L297.9,910.8 L298.9,910.8 L299.9,910.8 L300.9,910.8 L301.9,910.8 L302.9,910.8 L303.9,910.8 L304.9,910.8 L305.9,910.8 L306.9,910.8 L307.9,910.8 L308.9,910.8 L309.9,910.7 L310.9,910.7 L311.9,910.7 L312.9,910.7 L313.9,910.7 L314.9,910.7 L315.9,910.7 L316.9,910.7 L317.9,910.7 L318.9,910.7 L319.9,910.7 L320.9,910.7 L321.9,910.7 L323.0,910.7 L324.0,910.7 L325.0,910.7 L326.0,910.7 L327.0,910.7 L328.0,910.7 M345.0,910.6 L346.0,910.6 L347.0,910.6 L348.0,910.6 L349.0,910.6 L350.0,910.6 L351.0,910.6 L352.0,910.6 L353.0,910.6 L354.0,910.6 L355.0,910.5 L356.0,910.5 L357.0,910.5 L358.0,910.5 L359.0,910.5 L360.0,910.5 L361.0,910.5 L362.0,910.5 L363.0,910.5 L364.0,910.5 L365.0,910.5 L366.0,910.5 L367.0,910.5 L368.0,910.5 L369.0,910.5 L370.0,910.5 L371.0,910.5 L372.0,910.5 L373.0,910.5 L374.0,910.4 L375.0,910.4 L376.0,910.4 L377.0,910.4 L378.0,910.4 L379.0,910.4 L380.0,910.4 L381.0,910.4 L382.0,910.4 L383.0,910.4 L384.0,910.4 L385.0,910.4 L386.0,910.4 L387.0,910.4 L388.0,910.4 L389.0,910.4 L390.0,910.4 L391.0,910.4 L392.0,910.3 M409.0,910.2 L410.0,910.2 L411.0,910.2 L412.0,910.2 L413.0,910.2 L414.0,910.2 L415.0,910.2 L416.0,910.2 L417.0,910.2 L418.0,910.2 L419.0,910.2 L420.0,910.2 L421.0,910.2 L422.0,910.1 L423.0,910.1 L424.0,910.1 L425.0,910.1 L426.0,910.1 L427.0,910.1 L428.0,910.1 L429.0,910.1 L430.0,910.1 L431.0,910.1 L432.0,910.1 L433.0,910.0 L434.0,910.0 L435.0,910.0 L436.0,910.0 L437.0,910.0 L438.0,910.0 L439.0,910.0 L440.0,910.0 L441.0,910.0 L442.0,910.0 L443.0,910.0 L444.0,909.9 L445.0,909.9 L446.0,909.9 L447.0,909.9 L448.0,909.9 L449.0,909.9 L450.0,909.9 L451.0,909.9 L452.0,909.9 L453.0,909.8 L454.0,909.8 L455.0,909.8 L456.0,909.8 M473.0,909.6 L474.0,909.6 L475.0,909.6 L476.0,909.6 L477.0,909.6 L478.0,909.6 L479.0,909.6 L480.0,909.5 L481.0,909.5 L482.0,909.5 L483.0,909.5 L484.0,909.5 L485.0,909.5 L486.0,909.5 L487.0,909.5 L488.0,909.4 L489.0,909.4 L490.0,909.4 L491.0,909.4 L492.0,909.4 L493.0,909.4 L494.0,909.4 L495.0,909.4 L496.0,909.3 L497.0,909.3 L498.0,909.3 L499.0,909.3 L500.0,909.3 L501.0,909.3 L502.0,909.3 L503.0,909.3 L504.0,909.2 L505.0,909.2 L506.0,909.2 L507.0,909.2 L508.0,909.2 L509.0,909.2 L510.0,909.2 L511.0,909.2 L512.0,909.1 L513.0,909.1 L514.0,909.1 L515.0,909.1 L516.0,909.1 L517.0,909.1 L518.0,909.1 L519.0,909.0 M537.0,908.8 L538.0,908.8 L539.0,908.8 L540.0,908.8 L541.0,908.8 L542.0,908.7 L543.0,908.7 L544.0,908.7 L545.0,908.7 L546.0,908.7 L547.0,908.7 L548.0,908.7 L549.0,908.6 L550.0,908.6 L551.0,908.6 L552.0,908.6 L553.0,908.6 L554.0,908.6 L555.0,908.6 L556.0,908.6 L557.0,908.5 L558.0,908.5 L559.0,908.5 L560.0,908.5 L561.0,908.5 L562.0,908.5 L563.0,908.5 L564.0,908.4 L565.0,908.4 L566.0,908.4 L567.0,908.4 L568.0,908.4 L569.0,908.4 L570.0,908.4 L571.0,908.4 L572.0,908.3 L573.0,908.3 L574.0,908.3 L575.0,908.3 L576.0,908.3 L577.0,908.3 L578.0,908.3 L579.0,908.2 L580.0,908.2 L581.0,908.2 L582.0,908.2 L583.0,908.2 M601.0,907.9 L602.0,907.9 L603.0,907.9 L604.0,907.9 L605.0,907.8 L606.0,907.8 L607.0,907.8 L608.0,907.8 L609.0,907.8 L610.0,907.8 L611.0,907.7 L612.0,907.7 L613.0,907.7 L614.0,907.7 L615.0,907.7 L616.0,907.7 L617.0,907.7 L618.0,907.6 L619.0,907.6 L620.0,907.6 L621.0,907.6 L622.0,907.6 L623.0,907.6 L624.0,907.5 L625.0,907.5 L626.0,907.5 L627.0,907.5 L628.0,907.5 L629.0,907.5 L630.0,907.4 L631.0,907.4 L632.0,907.4 L633.0,907.4 L634.0,907.4 L635.0,907.4 L636.0,907.3 L637.0,907.3 L638.0,907.3 L639.0,907.3 L640.0,907.3 L641.0,907.3 L642.0,907.2 L643.0,907.2 L644.0,907.2 L645.0,907.2 L646.0,907.2 L647.0,907.2 M665.0,906.8 L666.0,906.8 L667.0,906.8 L668.0,906.8 L669.0,906.8 L670.0,906.8 L671.0,906.7 L672.0,906.7 L673.0,906.7 L674.0,906.7 L675.0,906.7 L676.0,906.7 L677.0,906.6 L678.0,906.6 L679.0,906.6 L680.0,906.6 L681.0,906.6 L682.0,906.6 L683.0,906.5 L684.0,906.5 L685.0,906.5 L686.0,906.5 L687.0,906.5 L688.0,906.5 L689.0,906.4 L690.0,906.4 L691.0,906.4 L692.0,906.4 L693.0,906.4 L694.0,906.4 L695.0,906.3 L696.0,906.3 L697.0,906.3 L698.0,906.3 L699.0,906.3 L700.0,906.3 L701.0,906.2 L702.0,906.2 L703.0,906.2 L704.0,906.2 L705.0,906.2 L706.0,906.2 L707.0,906.1 L708.0,906.1 L709.0,906.1 L710.0,906.1 L711.0,906.1" fill="none" stroke="#000" stroke-width="4"/>
<path d="M92,916 C93,922 95,926 99,927" fill="none" stroke="#000" stroke-width="3"/>
<circle cx="106.5" cy="926.4" r="3.4"/>
<circle cx="122.5" cy="926.2" r="3.4"/>
<circle cx="138.5" cy="926" r="3.4"/>
<circle cx="154.5" cy="925.8" r="3.4"/>
<circle cx="170.5" cy="925.7" r="3.4"/>
<circle cx="186.5" cy="925.5" r="3.4"/>
<circle cx="202.5" cy="925.3" r="3.4"/>
<circle cx="218.5" cy="925.1" r="3.4"/>
<circle cx="234.5" cy="924.9" r="3.4"/>
<circle cx="250.5" cy="924.7" r="3.4"/>
<circle cx="266.5" cy="924.5" r="3.4"/>
<circle cx="282.5" cy="924.4" r="3.4"/>
<circle cx="298.5" cy="924.2" r="3.4"/>
<circle cx="314.5" cy="924" r="3.4"/>
<circle cx="330.5" cy="923.8" r="3.4"/>
<circle cx="346.5" cy="923.6" r="3.4"/>
<circle cx="362.5" cy="923.4" r="3.4"/>
<circle cx="378.5" cy="923.3" r="3.4"/>
<circle cx="394.5" cy="923.1" r="3.4"/>
<circle cx="410.5" cy="922.9" r="3.4"/>
<circle cx="426.5" cy="922.7" r="3.4"/>
<circle cx="442.5" cy="922.5" r="3.4"/>
<circle cx="458.5" cy="922.3" r="3.4"/>
<circle cx="474.5" cy="922.1" r="3.4"/>
<circle cx="490.5" cy="922" r="3.4"/>
<circle cx="506.5" cy="921.8" r="3.4"/>
<circle cx="522.5" cy="921.6" r="3.4"/>
<circle cx="538.5" cy="921.4" r="3.4"/>
<circle cx="554.5" cy="921.2" r="3.4"/>
<circle cx="570.5" cy="921" r="3.4"/>
<circle cx="586.5" cy="920.8" r="3.4"/>
<circle cx="602.5" cy="920.7" r="3.4"/>
<circle cx="618.5" cy="920.5" r="3.4"/>
<circle cx="634.5" cy="920.3" r="3.4"/>
<circle cx="650.5" cy="920.1" r="3.4"/>
<circle cx="666.5" cy="919.9" r="3.4"/>
<circle cx="682.5" cy="919.7" r="3.4"/>
<circle cx="698.5" cy="919.6" r="3.4"/>
<circle cx="714.5" cy="919.4" r="3.4"/>
<g stroke="#000" fill="none">
<path d="M88.3,533.5 H720.5 M88.3,950.3 H720.5" stroke-width="4.6"/>
<path d="M90.8,531.2 V952.6 M718,531.2 V952.6" stroke-width="5.2"/>
</g>
<g stroke="#000" fill="none">
<path d="M852.1,535 H1494 M852.1,950.5 H1494" stroke-width="4.6"/>
<path d="M854.6,532.7 V952.8 M1491.5,532.7 V952.8" stroke-width="5.2"/>
</g>
<path d="M848.6,921.5 H854.6" stroke="#000" stroke-width="2"/>
<text x="835.1" y="930.1" text-anchor="end" font-family="Liberation Sans, sans-serif" font-weight="bold" font-size="24.5" fill="#000">0</text>
<path d="M848.6,811 H854.6" stroke="#000" stroke-width="2"/>
<text x="835.1" y="819.6" text-anchor="end" font-family="Liberation Sans, sans-serif" font-weight="bold" font-size="24.5" fill="#000">200</text>
<path d="M848.6,700.4 H854.6" stroke="#000" stroke-width="2"/>
<text x="835.1" y="709" text-anchor="end" font-family="Liberation Sans, sans-serif" font-weight="bold" font-size="24.5" fill="#000">400</text>
<path d="M848.6,589.9 H854.6" stroke="#000" stroke-width="2"/>
<text x="835.1" y="598.5" text-anchor="end" font-family="Liberation Sans, sans-serif" font-weight="bold" font-size="24.5" fill="#000">600</text>
<path d="M921.2,950.5 V956.5" stroke="#000" stroke-width="2"/>
<text x="921.2" y="987.3" text-anchor="middle" font-family="Liberation Sans, sans-serif" font-weight="bold" font-size="24.5" fill="#000">320</text>
<path d="M1009,950.5 V956.5" stroke="#000" stroke-width="2"/>
<text x="1009" y="987.3" text-anchor="middle" font-family="Liberation Sans, sans-serif" font-weight="bold" font-size="24.5" fill="#000">340</text>
<path d="M1096.8,950.5 V956.5" stroke="#000" stroke-width="2"/>
<text x="1096.8" y="987.3" text-anchor="middle" font-family="Liberation Sans, sans-serif" font-weight="bold" font-size="24.5" fill="#000">360</text>
<path d="M1184.7,950.5 V956.5" stroke="#000" stroke-width="2"/>
<text x="1184.7" y="987.3" text-anchor="middle" font-family="Liberation Sans, sans-serif" font-weight="bold" font-size="24.5" fill="#000">380</text>
<path d="M1272.4,950.5 V956.5" stroke="#000" stroke-width="2"/>
<text x="1272.4" y="987.3" text-anchor="middle" font-family="Liberation Sans, sans-serif" font-weight="bold" font-size="24.5" fill="#000">400</text>
<path d="M1360.2,950.5 V956.5" stroke="#000" stroke-width="2"/>
<text x="1360.2" y="987.3" text-anchor="middle" font-family="Liberation Sans, sans-serif" font-weight="bold" font-size="24.5" fill="#000">420</text>
<path d="M1448,950.5 V956.5" stroke="#000" stroke-width="2"/>
<text x="1448" y="987.3" text-anchor="middle" font-family="Liberation Sans, sans-serif" font-weight="bold" font-size="24.5" fill="#000">440</text>
<text transform="translate(777,744.6) rotate(-90)" text-anchor="middle" font-family="Liberation Sans, sans-serif" font-weight="bold" font-size="26.5" fill="#000" textLength="295" lengthAdjust="spacingAndGlyphs">Fluorescence Intensity</text>
<text x="1172.9" y="1014" text-anchor="middle" font-family="Liberation Sans, sans-serif" font-weight="bold" font-size="26" fill="#000" textLength="226.8" lengthAdjust="spacingAndGlyphs">Wavelength (nm)</text>
<text x="1459.3" y="580.5" text-anchor="middle" font-family="Liberation Sans, sans-serif" font-weight="bold" font-size="42" fill="#000">D</text>
<path d="M874,560.6 H1078.2" stroke="#000" stroke-width="4"/>
<path d="M874,583.4 H1050" stroke="#000" stroke-width="4" stroke-dasharray="49.6 16"/>
<circle cx="875.5" cy="606.2" r="3.4"/>
<circle cx="891.5" cy="606.2" r="3.4"/>
<circle cx="907.5" cy="606.2" r="3.4"/>
<circle cx="923.5" cy="606.2" r="3.4"/>
<circle cx="939.5" cy="606.2" r="3.4"/>
<circle cx="955.5" cy="606.2" r="3.4"/>
<circle cx="971.5" cy="606.2" r="3.4"/>
<circle cx="987.5" cy="606.2" r="3.4"/>
<circle cx="1003.5" cy="606.2" r="3.4"/>
<circle cx="1019.5" cy="606.2" r="3.4"/>
<circle cx="1035.5" cy="606.2" r="3.4"/>
<circle cx="1051.5" cy="606.2" r="3.4"/>
<circle cx="1067.5" cy="606.2" r="3.4"/>
<text x="1125.3" y="565.2" font-family="Liberation Sans, sans-serif" font-weight="bold" font-size="16.5" fill="#222">CA</text>
<text x="1125.3" y="588" font-family="Liberation Sans, sans-serif" font-weight="bold" font-size="16.5" fill="#222">MGO</text>
<text x="1125.3" y="610.8" font-family="Liberation Sans, sans-serif" font-weight="bold" font-size="16.5" fill="#222">MGO + 1mM SAC</text>
<path d="M855.2,920.2 L857.2,914.7 L859.2,909.7 L861.2,904.9 L863.2,900.4 L865.2,896.2 L867.2,892.2 L869.2,888.5 L871.2,885.0 L873.2,881.7 L875.2,878.6 L877.2,875.6 L879.2,872.8 L881.2,870.2 L883.2,867.7 L885.2,865.3 L887.2,862.9 L889.2,860.7 L891.2,858.5 L893.2,856.3 L895.2,854.1 L897.2,852.0 L899.2,849.8 L901.2,847.6 L903.2,845.4 L905.2,843.1 L907.2,840.7 L909.2,838.3 L911.2,835.9 L913.2,833.4 L915.2,830.8 L917.2,828.3 L919.2,825.7 L921.2,823.0 L923.2,820.4 L925.2,817.7 L927.2,815.0 L929.2,812.3 L931.2,809.5 L933.2,806.8 L935.2,804.1 L937.2,801.4 L939.2,798.6 L941.2,795.9 L943.2,793.2 L945.2,790.5 L947.2,787.9 L949.2,785.2 L951.2,782.6 L953.2,780.0 L955.2,777.5 L957.2,775.0 L959.2,772.5 L961.2,770.1 L963.2,767.7 L965.2,765.4 L967.2,763.1 L969.2,760.8 L971.2,758.6 L973.2,756.4 L975.2,754.3 L977.2,752.2 L979.2,750.2 L981.2,748.2 L983.2,746.2 L985.2,744.3 L987.2,742.4 L989.2,740.5 L991.2,738.8 L993.2,737.0 L995.2,735.3 L997.2,733.6 L999.2,732.0 L1001.2,730.4 L1003.2,728.9 L1005.2,727.4 L1007.2,726.0 L1009.2,724.6 L1011.2,723.2 L1013.2,721.9 L1015.2,720.7 L1017.2,719.5 L1019.2,718.3 L1021.2,717.2 L1023.2,716.1 L1025.2,715.1 L1027.2,714.1 L1029.2,713.2 L1031.2,712.3 L1033.2,711.4 L1035.2,710.7 L1037.2,709.9 L1039.2,709.2 L1041.2,708.6 L1043.2,708.0 L1045.2,707.5 L1047.2,707.0 L1049.2,706.5 L1051.2,706.1 L1053.2,705.8 L1055.2,705.5 L1057.2,705.2 L1059.2,705.0 L1061.2,704.9 L1063.2,704.8 L1065.2,704.8 L1067.2,704.8 L1069.2,704.8 L1071.2,705.0 L1073.2,705.1 L1075.2,705.3 L1077.2,705.6 L1079.2,705.9 L1081.2,706.3 L1083.2,706.7 L1085.2,707.2 L1087.2,707.8 L1089.2,708.4 L1091.2,709.0 L1093.2,709.7 L1095.2,710.4 L1097.2,711.2 L1099.2,712.0 L1101.2,712.9 L1103.2,713.8 L1105.2,714.8 L1107.2,715.8 L1109.2,716.8 L1111.2,717.9 L1113.2,719.0 L1115.2,720.1 L1117.2,721.3 L1119.2,722.5 L1121.2,723.8 L1123.2,725.1 L1125.2,726.4 L1127.2,727.7 L1129.2,729.1 L1131.2,730.5 L1133.2,731.9 L1135.2,733.4 L1137.2,734.9 L1139.2,736.4 L1141.2,737.9 L1143.2,739.5 L1145.2,741.0 L1147.2,742.6 L1149.2,744.2 L1151.2,745.8 L1153.2,747.5 L1155.2,749.1 L1157.2,750.8 L1159.2,752.5 L1161.2,754.2 L1163.2,755.9 L1165.2,757.6 L1167.2,759.3 L1169.2,761.0 L1171.2,762.8 L1173.2,764.5 L1175.2,766.2 L1177.2,768.0 L1179.2,769.7 L1181.2,771.5 L1183.2,773.2 L1185.2,775.0 L1187.2,776.7 L1189.2,778.4 L1191.2,780.2 L1193.2,781.9 L1195.2,783.6 L1197.2,785.4 L1199.2,787.1 L1201.2,788.8 L1203.2,790.5 L1205.2,792.2 L1207.2,793.9 L1209.2,795.6 L1211.2,797.3 L1213.2,799.0 L1215.2,800.7 L1217.2,802.4 L1219.2,804.0 L1221.2,805.7 L1223.2,807.3 L1225.2,809.0 L1227.2,810.6 L1229.2,812.2 L1231.2,813.8 L1233.2,815.4 L1235.2,817.0 L1237.2,818.6 L1239.2,820.2 L1241.2,821.7 L1243.2,823.3 L1245.2,824.8 L1247.2,826.3 L1249.2,827.8 L1251.2,829.3 L1253.2,830.8 L1255.2,832.3 L1257.2,833.7 L1259.2,835.1 L1261.2,836.6 L1263.2,838.0 L1265.2,839.3 L1267.2,840.7 L1269.2,842.1 L1271.2,843.4 L1273.2,844.7 L1275.2,846.0 L1277.2,847.3 L1279.2,848.5 L1281.2,849.8 L1283.2,851.0 L1285.2,852.2 L1287.2,853.4 L1289.2,854.6 L1291.2,855.8 L1293.2,856.9 L1295.2,858.1 L1297.2,859.2 L1299.2,860.3 L1301.2,861.4 L1303.2,862.5 L1305.2,863.5 L1307.2,864.6 L1309.2,865.6 L1311.2,866.6 L1313.2,867.6 L1315.2,868.6 L1317.2,869.5 L1319.2,870.5 L1321.2,871.4 L1323.2,872.4 L1325.2,873.3 L1327.2,874.2 L1329.2,875.1 L1331.2,876.0 L1333.2,876.8 L1335.2,877.7 L1337.2,878.5 L1339.2,879.3 L1341.2,880.1 L1343.2,880.9 L1345.2,881.7 L1347.2,882.5 L1349.2,883.3 L1351.2,884.0 L1353.2,884.7 L1355.2,885.5 L1357.2,886.2 L1359.2,886.9 L1361.2,887.6 L1363.2,888.3 L1365.2,888.9 L1367.2,889.6 L1369.2,890.2 L1371.2,890.9 L1373.2,891.5 L1375.2,892.1 L1377.2,892.7 L1379.2,893.3 L1381.2,893.9 L1383.2,894.5 L1385.2,895.1 L1387.2,895.6 L1389.2,896.2 L1391.2,896.7 L1393.2,897.2 L1395.2,897.8 L1397.2,898.3 L1399.2,898.8 L1401.2,899.3 L1403.2,899.8 L1405.2,900.2 L1407.2,900.7 L1409.2,901.2 L1411.2,901.6 L1413.2,902.1 L1415.2,902.5 L1417.2,903.0 L1419.2,903.4 L1421.2,903.8 L1423.2,904.2 L1425.2,904.6 L1427.2,905.0 L1429.2,905.4 L1431.2,905.8 L1433.2,906.2 L1435.2,906.6 L1437.2,906.9 L1439.2,907.3 L1441.2,907.7 L1443.2,908.0 L1445.2,908.4 L1447.2,908.7 L1449.2,909.0 L1451.2,909.4 L1453.2,909.7 L1455.2,910.0 L1457.2,910.3 L1459.2,910.6 L1461.2,910.9 L1463.2,911.3 L1465.2,911.6 L1467.2,911.8 L1469.2,912.1 L1471.2,912.4 L1473.2,912.7 L1475.2,913.0 L1477.2,913.3 L1479.2,913.5 L1481.2,913.8 L1483.2,914.1 L1485.2,914.4 L1487.2,914.6 L1489.0,914.9" fill="none" stroke="#000" stroke-width="3.4"/>
<path d="M855.4,921.0 L856.5,913.8 L857.7,906.1 L858.9,899.4 L860.0,895.0 L861.0,892.8 L862.0,890.9 L863.0,889.4 L864.0,888.0 L865.0,886.9 L866.0,885.8 L867.0,884.7 L868.0,883.6 L869.0,882.4 L870.0,881.1 L871.0,879.9 L872.0,878.7 L873.0,877.6 L874.0,876.4 L875.1,875.3 L876.1,874.3 L877.1,873.2 L878.1,872.1 L879.1,871.1 L880.1,870.0 L881.1,869.0 L882.1,867.9 M891.2,856.9 L892.2,855.4 L893.2,853.9 L894.2,852.2 L895.3,850.6 L896.3,848.8 L897.3,847.0 L898.3,845.2 L899.3,843.3 L900.3,841.3 L901.3,839.4 L902.4,837.4 L903.4,835.4 L904.4,833.4 L905.4,831.4 L906.4,829.4 L907.4,827.4 L908.4,825.4 L909.5,823.4 L910.5,821.4 L911.5,819.5 L912.5,817.6 M923.1,798.0 L924.1,796.3 L925.1,794.5 L926.1,792.9 L927.1,791.2 L928.1,789.5 L929.1,787.9 L930.1,786.3 L931.1,784.7 L932.1,783.1 L933.1,781.5 L934.1,779.9 L935.1,778.4 L936.2,776.8 L937.2,775.2 L938.2,773.6 L939.2,772.1 L940.2,770.5 L941.2,768.9 L942.2,767.3 L943.2,765.7 L944.2,764.0 L945.2,762.4 L946.2,760.7 L947.2,759.0 L948.2,757.3 L949.2,755.6 M959.0,737.6 L960.0,736.0 L961.0,734.4 L962.0,732.9 L963.0,731.4 L964.0,729.8 L965.0,728.4 L966.0,726.9 L967.0,725.4 L968.0,724.0 L969.0,722.6 L970.0,721.1 L971.0,719.7 L972.0,718.4 L973.0,717.0 L974.0,715.7 L975.0,714.3 L976.0,713.0 L977.0,711.7 L978.0,710.4 L979.0,709.1 L980.0,707.8 L981.0,706.5 L982.0,705.3 L983.0,704.0 L984.0,702.8 L985.0,701.6 L986.0,700.3 L987.0,699.1 L988.0,697.9 L989.0,696.7 L990.0,695.5 L991.0,694.3 M1008.3,675.5 L1009.3,674.7 L1010.4,673.9 L1011.4,673.1 L1012.4,672.3 L1013.5,671.6 L1014.5,670.9 L1015.5,670.1 L1016.6,669.4 L1017.6,668.8 L1018.6,668.1 L1019.7,667.5 L1020.7,666.8 L1021.7,666.2 L1022.8,665.6 L1023.8,665.1 L1024.8,664.5 L1025.9,664.0 L1026.9,663.4 L1027.9,662.9 L1029.0,662.5 L1030.0,662.0 L1031.0,661.6 L1032.0,661.1 L1033.0,660.6 L1034.0,660.2 L1035.1,659.7 L1036.1,659.2 L1037.1,658.8 L1038.1,658.3 L1039.1,657.9 L1040.1,657.4 L1041.1,657.0 L1042.1,656.6 L1043.1,656.2 L1044.2,655.8 L1045.2,655.4 L1046.2,655.0 L1047.2,654.7 L1048.2,654.4 L1049.2,654.1 L1050.2,653.8 L1051.2,653.6 L1052.2,653.4 L1053.3,653.2 L1054.3,653.1 L1055.3,653.0 L1056.3,652.9 L1057.3,652.9 M1074.6,654.6 L1075.6,654.8 L1076.6,655.0 L1077.6,655.3 L1078.7,655.6 L1079.7,655.9 L1080.7,656.3 L1081.7,656.8 L1082.7,657.2 L1083.7,657.7 L1084.8,658.2 L1085.8,658.7 L1086.8,659.3 L1087.8,659.8 L1088.8,660.4 L1089.8,661.0 L1090.9,661.6 L1091.9,662.2 L1092.9,662.8 L1093.9,663.4 L1094.9,664.0 L1095.9,664.6 L1097.0,665.2 L1098.0,665.8 L1099.0,666.4 L1100.0,667.0 L1101.0,667.6 L1102.0,668.1 L1103.0,668.7 L1104.0,669.3 L1105.0,669.9 L1106.1,670.5 L1107.1,671.1 L1108.1,671.7 L1109.1,672.3 L1110.1,672.9 L1111.1,673.5 L1112.1,674.2 L1113.1,674.8 L1114.1,675.5 L1115.1,676.2 L1116.1,676.8 L1117.2,677.6 L1118.2,678.3 L1119.2,679.0 L1120.2,679.8 L1121.2,680.5 L1122.2,681.3 M1141.7,700.6 L1142.7,701.7 L1143.7,702.7 L1144.7,703.8 L1145.8,704.9 L1146.8,706.0 L1147.8,707.0 L1148.8,708.1 L1149.8,709.2 L1150.8,710.3 L1151.8,711.4 L1152.8,712.5 L1153.9,713.7 L1154.9,714.8 L1155.9,715.9 L1156.9,717.0 L1157.9,718.2 L1158.9,719.3 L1159.9,720.4 L1161.0,721.6 L1162.0,722.7 L1163.0,723.9 L1164.0,725.0 L1165.0,726.2 L1166.0,727.3 L1167.0,728.5 L1168.1,729.6 L1169.1,730.8 L1170.1,731.9 L1171.1,733.1 L1172.1,734.3 L1173.1,735.4 L1174.1,736.6 L1175.1,737.7 L1176.2,738.9 L1177.2,740.1 L1178.2,741.2 L1179.2,742.4 M1195.1,761.1 L1196.1,762.2 L1197.1,763.4 L1198.2,764.5 L1199.2,765.6 L1200.2,766.8 L1201.2,767.9 L1202.2,769.0 L1203.3,770.1 L1204.3,771.3 L1205.3,772.4 L1206.3,773.5 L1207.3,774.6 L1208.4,775.7 L1209.4,776.8 L1210.4,777.9 L1211.4,779.0 L1212.4,780.1 L1213.5,781.2 L1214.5,782.3 L1215.5,783.4 L1216.5,784.4 L1217.5,785.5 L1218.5,786.6 L1219.6,787.6 L1220.6,788.7 L1221.6,789.7 L1222.6,790.8 L1223.6,791.8 L1224.7,792.8 L1225.7,793.8 L1226.7,794.8 L1227.7,795.8 L1228.7,796.8 L1229.8,797.8 L1230.8,798.8 L1231.8,799.7 L1232.8,800.7 L1233.8,801.6 L1234.9,802.6 L1235.9,803.5 L1236.9,804.4 M1258.5,821.7 L1259.5,822.5 L1260.5,823.3 L1261.5,824.2 L1262.6,825.0 L1263.6,825.8 L1264.6,826.7 L1265.6,827.5 L1266.6,828.4 L1267.6,829.2 L1268.7,830.1 L1269.7,830.9 L1270.7,831.8 L1271.7,832.6 L1272.7,833.5 L1273.7,834.3 L1274.8,835.2 L1275.8,836.1 L1276.8,836.9 L1277.8,837.8 L1278.8,838.6 L1279.8,839.5 L1280.8,840.3 L1281.9,841.2 L1282.9,842.0 L1283.9,842.9 L1284.9,843.7 L1285.9,844.5 L1286.9,845.4 L1288.0,846.2 L1289.0,847.0 L1290.0,847.8 L1291.0,848.6 L1292.0,849.4 L1293.0,850.2 L1294.1,851.0 L1295.1,851.8 L1296.1,852.5 L1297.1,853.3 L1298.1,854.1 L1299.1,854.8 L1300.2,855.5 L1301.2,856.3 L1302.2,857.0 L1303.2,857.7 M1320.3,867.0 L1321.3,867.6 L1322.3,868.1 L1323.3,868.7 L1324.3,869.2 L1325.3,869.7 L1326.3,870.2 L1327.3,870.7 L1328.3,871.2 L1329.3,871.6 L1330.3,872.1 L1331.3,872.6 L1332.3,873.0 L1333.3,873.5 L1334.4,873.9 L1335.4,874.3 L1336.4,874.8 L1337.4,875.2 L1338.4,875.6 L1339.4,876.0 L1340.4,876.5 L1341.4,876.9 L1342.4,877.3 L1343.4,877.7 L1344.4,878.1 L1345.4,878.5 L1346.4,878.8 L1347.4,879.2 L1348.5,879.6 L1349.5,880.0 L1350.5,880.3 L1351.5,880.7 L1352.5,881.1 L1353.5,881.4 L1354.5,881.8 L1355.5,882.1 L1356.5,882.5 L1357.5,882.8 L1358.5,883.2 L1359.5,883.5 L1360.5,883.8 L1361.5,884.2 L1362.6,884.5 L1363.6,884.8 L1364.6,885.1 L1365.6,885.5 L1366.6,885.8 L1367.6,886.1 L1368.6,886.4 L1369.6,886.7 L1370.6,887.0 L1371.6,887.3 L1372.6,887.6 L1373.6,887.9 L1374.6,888.2 L1375.6,888.5 L1376.6,888.8 L1377.6,889.1 L1378.6,889.3 L1379.6,889.6 L1380.7,889.9 L1381.7,890.2 L1382.7,890.4 L1383.7,890.7 L1384.7,891.0 L1385.7,891.2 L1386.7,891.5 L1387.7,891.8 L1388.7,892.0 L1389.7,892.3 L1390.7,892.5 L1391.7,892.8 L1392.7,893.0 L1393.7,893.3 L1394.7,893.5 L1395.7,893.8 L1396.7,894.0 L1397.7,894.2 L1398.7,894.5 L1399.7,894.7 L1400.7,895.0 L1401.7,895.2 L1402.8,895.4 L1403.8,895.7 L1404.8,895.9 L1405.8,896.1 L1406.8,896.3 L1407.8,896.6 L1408.8,896.8 L1409.8,897.0 L1410.8,897.3 L1411.8,897.5 L1412.8,897.7 L1413.8,897.9 L1414.8,898.1 L1415.8,898.4 L1416.8,898.6 L1417.8,898.8 L1418.8,899.0 L1419.8,899.2 L1420.9,899.4 L1421.9,899.6 L1422.9,899.8 L1423.9,900.0 L1424.9,900.2 L1425.9,900.5 L1426.9,900.7 L1427.9,900.9 L1428.9,901.1 L1429.9,901.3 L1430.9,901.4 L1431.9,901.6 L1432.9,901.8 L1433.9,902.0 L1435.0,902.2 L1436.0,902.4 L1437.0,902.6 L1438.0,902.8 L1439.0,903.0 L1440.0,903.2 L1441.0,903.4 L1442.0,903.6 L1443.0,903.7 L1444.0,903.9 L1445.0,904.1 L1446.0,904.3 L1447.0,904.5 L1448.0,904.7 L1449.1,904.9 L1450.1,905.1 L1451.1,905.3 L1452.1,905.4 L1453.1,905.6 L1454.1,905.8 L1455.1,906.0 L1456.1,906.2 L1457.1,906.4 L1458.2,906.6 L1459.2,906.8 L1460.2,907.0 L1461.2,907.2 L1462.3,907.4 L1463.3,907.5 L1464.3,907.7 L1465.4,907.9 L1466.4,908.1 L1467.4,908.3 L1468.4,908.5 L1469.5,908.7 L1470.5,908.9 L1471.5,909.0 L1472.5,909.2 L1473.6,909.4 L1474.6,909.6 L1475.6,909.8 L1476.7,910.0 L1477.7,910.2 L1478.7,910.3 L1479.7,910.5 L1480.8,910.7 L1481.8,910.9 L1482.8,911.1 L1483.9,911.3 L1484.9,911.5 L1485.9,911.6 L1486.9,911.8 L1488.0,912.0 L1489.0,912.2" fill="none" stroke="#000" stroke-width="3.8" stroke-linecap="round"/>
<path d="M855.4,921 C858,900 860,882 866,876" fill="none" stroke="#000" stroke-width="3"/>
<circle cx="870" cy="873.8" r="3.5"/>
<circle cx="880.8" cy="858.5" r="3.5"/>
<circle cx="890" cy="844" r="3.5"/>
<circle cx="897.7" cy="829.2" r="3.5"/>
<circle cx="905.4" cy="815.4" r="3.5"/>
<circle cx="912.5" cy="801.5" r="3.5"/>
<circle cx="919.2" cy="787.1" r="3.5"/>
<circle cx="926.3" cy="771.7" r="3.5"/>
<circle cx="932.5" cy="756.9" r="3.5"/>
<circle cx="939.2" cy="743.1" r="3.5"/>
<circle cx="945.4" cy="728.3" r="3.5"/>
<circle cx="952.2" cy="713.8" r="3.5"/>
<circle cx="959.2" cy="700" r="3.5"/>
<circle cx="967.8" cy="684.6" r="3.5"/>
<circle cx="979.2" cy="669.8" r="3.5"/>
<circle cx="991.5" cy="656" r="3.5"/>
<circle cx="1007.5" cy="644" r="3.5"/>
<circle cx="1023.2" cy="638.5" r="3.5"/>
<circle cx="1038.6" cy="637.5" r="3.5"/>
<circle cx="1054.6" cy="642.2" r="3.5"/>
<circle cx="1070" cy="648.6" r="3.5"/>
<circle cx="1085.4" cy="660" r="3.5"/>
<circle cx="1100.8" cy="672.3" r="3.5"/>
<circle cx="1114.3" cy="686.1" r="3.5"/>
<circle cx="1125.9" cy="700.6" r="3.5"/>
<circle cx="1138.8" cy="715.6" r="3.5"/>
<circle cx="1150.4" cy="730.8" r="3.5"/>
<circle cx="1161.9" cy="745.3" r="3.5"/>
<circle cx="1173.4" cy="759.7" r="3.5"/>
<circle cx="1186.4" cy="774.1" r="3.5"/>
<circle cx="1200.8" cy="788.5" r="3.5"/>
<circle cx="1215.3" cy="802.9" r="3.5"/>
<circle cx="1231.1" cy="815.9" r="3.5"/>
<circle cx="1247" cy="828.9" r="3.5"/>
<circle cx="1262.8" cy="840.4" r="3.5"/>
<circle cx="1278.7" cy="852.8" r="3.5"/>
<circle cx="1294.6" cy="860.6" r="3.5"/>
<circle cx="1309" cy="869.3" r="3.5"/>
<circle cx="1324.9" cy="877.9" r="3.5"/>
<circle cx="1340.7" cy="883.7" r="3.5"/>
<circle cx="1356.6" cy="889.5" r="3.5"/>
<circle cx="1372.4" cy="893.8" r="3.5"/>
<circle cx="1388" cy="897.5" r="3.5"/>
<circle cx="1404" cy="901" r="3.5"/>
<circle cx="1420" cy="904" r="3.5"/>
<circle cx="1436" cy="906.5" r="3.5"/>
<circle cx="1452" cy="909" r="3.5"/>
<circle cx="1468" cy="911.5" r="3.5"/>
<circle cx="1484" cy="913.5" r="3.5"/>
<g stroke="#000" fill="none">
<path d="M852.1,535 H1494 M852.1,950.5 H1494" stroke-width="4.6"/>
<path d="M854.6,532.7 V952.8 M1491.5,532.7 V952.8" stroke-width="5.2"/>
</g>
</svg></body></html>
